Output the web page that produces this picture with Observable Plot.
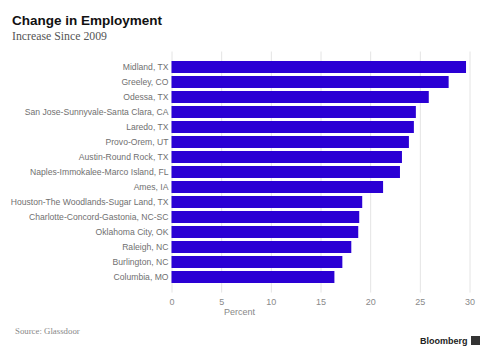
<!DOCTYPE html>
<html>
<head>
<meta charset="utf-8">
<script src="https://cdn.jsdelivr.net/npm/d3@7"></script>
<script src="https://cdn.jsdelivr.net/npm/@observablehq/plot@0.6"></script>
<style>
  html, body { margin: 0; padding: 0; background: #fff; }
  #wrap { position: relative; width: 488px; height: 356px; overflow: hidden; }
  #chart { position: absolute; left: 0; top: 0; }
  .txt { position: absolute; white-space: nowrap; line-height: 1; }
  #title { left: 12px; top: 13.6px; font: bold 13.5px "Liberation Sans", Arial, sans-serif; color: #111; line-height: 1; }
  #subtitle { left: 12px; top: 30.8px; font: 11.8px "Liberation Serif", serif; color: #555; line-height: 1; }
  #xlabel { left: 224px; top: 308px; font: 9px "Liberation Sans", Arial, sans-serif; color: #888; line-height: 1; }
  #source { left: 15px; top: 326.5px; font: 8.8px "Liberation Serif", serif; color: #888; line-height: 1; }
  #brand { left: 420px; top: 336px; font: bold 9px "Liberation Sans", Arial, sans-serif; color: #222; line-height: 1; }
  #brand .icon { display: inline-block; width: 9px; height: 9px; background: #333; margin-left: 3px; vertical-align: -1px; }
</style>
</head>
<body>
<div id="wrap">
  <div id="chart"></div>
  <div class="txt" id="title">Change in Employment</div>
  <div class="txt" id="subtitle">Increase Since 2009</div>
  <div class="txt" id="xlabel">Percent</div>
  <div class="txt" id="source">Source: Glassdoor</div>
  <div class="txt" id="brand">Bloomberg<span class="icon"></span></div>
</div>
<script>
const metros = [
  "Midland, TX",
  "Greeley, CO",
  "Odessa, TX",
  "San Jose-Sunnyvale-Santa Clara, CA",
  "Laredo, TX",
  "Provo-Orem, UT",
  "Austin-Round Rock, TX",
  "Naples-Immokalee-Marco Island, FL",
  "Ames, IA",
  "Houston-The Woodlands-Sugar Land, TX",
  "Charlotte-Concord-Gastonia, NC-SC",
  "Oklahoma City, OK",
  "Raleigh, NC",
  "Burlington, NC",
  "Columbia, MO"
];
const increases = [29.65, 27.9, 25.9, 24.6, 24.4, 23.9, 23.2, 23.0, 21.3, 19.2, 18.9, 18.8, 18.1, 17.2, 16.4];
const xTicks = [0, 5, 10, 15, 20, 25, 30];

const data = metros.map((m, i) => ({metro: m, value: increases[i]}));

const chart = Plot.plot({
  width: 488,
  height: 356,
  marginLeft: 171.5,
  marginRight: 18.5,
  marginTop: 51.5,
  marginBottom: 63.4,
  style: {fontFamily: "'Liberation Sans', Arial, sans-serif", fontSize: "9px", background: "transparent"},
  x: {domain: [0, 30]},
  y: {domain: metros, padding: 0.22},
  marks: [
    Plot.gridX(xTicks, {stroke: "#e4e4e4", strokeOpacity: 1}),
    Plot.barX(data, {x: "value", y: "metro", fill: "#2a00d4"}),
    Plot.axisX({ticks: xTicks, tickSize: 0, tickPadding: 5.5, label: null, color: "#8a8a8a"}),
    Plot.axisY({tickSize: 0, tickPadding: 3.5, label: null, color: "#707070", fontSize: 8.6})
  ]
});
document.getElementById("chart").appendChild(chart);
</script>
</body>
</html>
